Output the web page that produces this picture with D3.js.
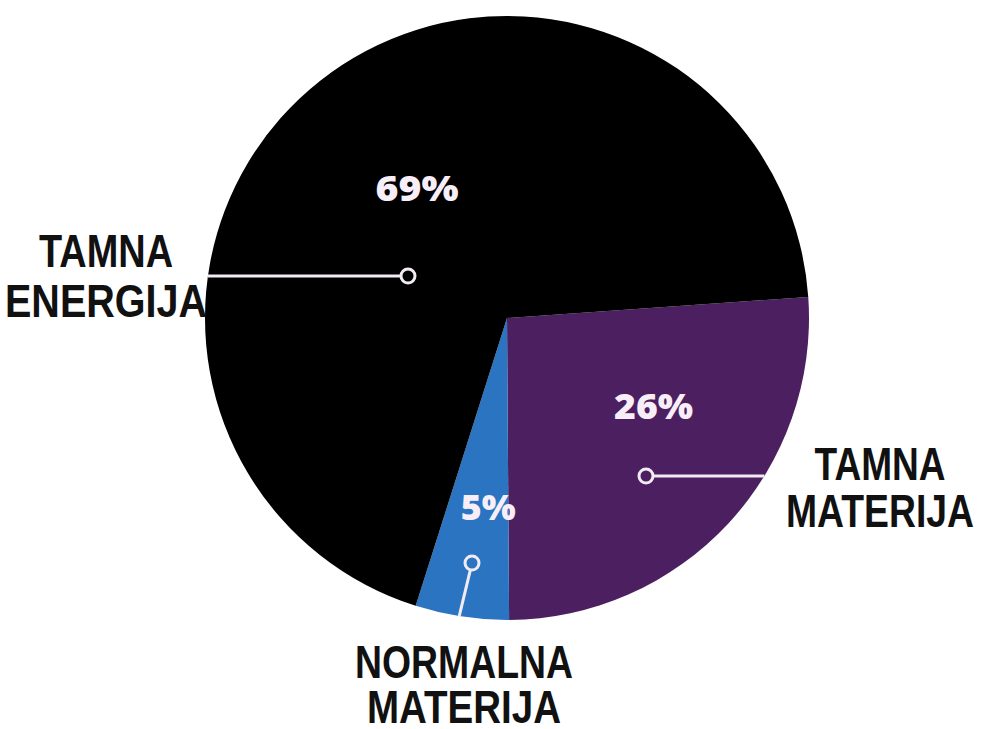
<!DOCTYPE html>
<html>
<head>
<meta charset="utf-8">
<script src="https://cdn.jsdelivr.net/npm/d3@7"></script>
<style>
  html, body { margin: 0; padding: 0; background: #ffffff; }
  svg { display: block; }
</style>
</head>
<body>
<svg id="chart" width="983" height="729"></svg>
<script>
// ---- data ----
const categories = ["TAMNA MATERIJA", "NORMALNA MATERIJA", "TAMNA ENERGIJA"];
const values = [26, 5, 69];
const percentLabels = ["26%", "5%", "69%"];
const nameLines = [["TAMNA", "MATERIJA"], ["NORMALNA", "MATERIJA"], ["TAMNA", "ENERGIJA"]];
const colors = ["#4b1f60", "#2a74c2", "#000000"];

// ---- layout ----
const W = 983, H = 729;
const cx = 507, cy = 318, R = 302;
const startDeg = 86;

const svg = d3.select("#chart");
const g = svg.append("g").attr("transform", `translate(${cx},${cy})`);

const pie = d3.pie().sort(null).value(d => d)
  .startAngle(startDeg * Math.PI / 180)
  .endAngle((startDeg + 360) * Math.PI / 180);
const arcs = pie(values);
const arc = d3.arc().innerRadius(0).outerRadius(R);

g.selectAll("path.slice").data(arcs).enter().append("path")
  .attr("class", "slice")
  .attr("d", arc)
  .attr("fill", (d, i) => colors[i]);

// percentage labels placed in polar coordinates relative to each slice's mid angle
const pctPlace = [
  { dAng: -11.8, r: 171, w: 79 },
  { dAng: -2.9, r: 190, w: 55 },
  { dAng: 3.5, r: 158, w: 83 }
];
arcs.forEach((a, i) => {
  const mid = (a.startAngle + a.endAngle) / 2 + pctPlace[i].dAng * Math.PI / 180;
  const [x, y] = d3.pointRadial(mid, pctPlace[i].r);
  g.append("text")
    .attr("x", x).attr("y", y)
    .attr("dy", "0.36em")
    .attr("text-anchor", "middle")
    .attr("font-family", "'Open Sans', Lato, sans-serif")
    .attr("font-weight", 800)
    .attr("font-size", 36)
    .attr("fill", "#f7eef7")
    .attr("textLength", pctPlace[i].w)
    .attr("lengthAdjust", "spacingAndGlyphs")
    .text(percentLabels[i]);
});

// connector markers: a ring inside the slice, line running out to the pie edge
const markers = [
  { dx: 139, dy: 158, dir: [1, 0] },     // dark matter -> right
  { dx: -35, dy: 245, dir: [-0.24, 1] }, // normal matter -> down
  { dx: -99, dy: -42, dir: [-1, 0] }     // dark energy -> left
];
const cr = 7;
markers.forEach((m, i) => {
  const len = Math.hypot(m.dir[0], m.dir[1]);
  const ux = m.dir[0] / len, uy = m.dir[1] / len;
  const b = m.dx * ux + m.dy * uy;
  const c = m.dx * m.dx + m.dy * m.dy - R * R;
  const t = -b + Math.sqrt(b * b - c);
  g.append("line")
    .attr("x1", m.dx + ux * cr).attr("y1", m.dy + uy * cr)
    .attr("x2", m.dx + ux * t).attr("y2", m.dy + uy * t)
    .attr("stroke", "#f2ecf2").attr("stroke-width", 3);
  g.append("circle")
    .attr("cx", m.dx).attr("cy", m.dy).attr("r", cr)
    .attr("fill", colors[i])
    .attr("stroke", "#f2ecf2").attr("stroke-width", 3);
});

// category names
const namePlace = [
  { x: 880, y: [480, 527], w: [131, 188] },
  { x: 464, y: [678, 723], w: [218, 194] },
  { x: 106, y: [267, 317], w: [134, 202] }
];
nameLines.forEach((lines, i) => {
  lines.forEach((ln, j) => {
    svg.append("text")
      .attr("x", namePlace[i].x)
      .attr("y", namePlace[i].y[j])
      .attr("text-anchor", "middle")
      .attr("font-family", "'Liberation Sans', Arial, sans-serif")
      .attr("font-weight", 700)
      .attr("font-size", 47)
      .attr("fill", "#111111")
      .attr("textLength", namePlace[i].w[j])
      .attr("lengthAdjust", "spacingAndGlyphs")
      .text(ln);
  });
});
</script>
</body>
</html>
